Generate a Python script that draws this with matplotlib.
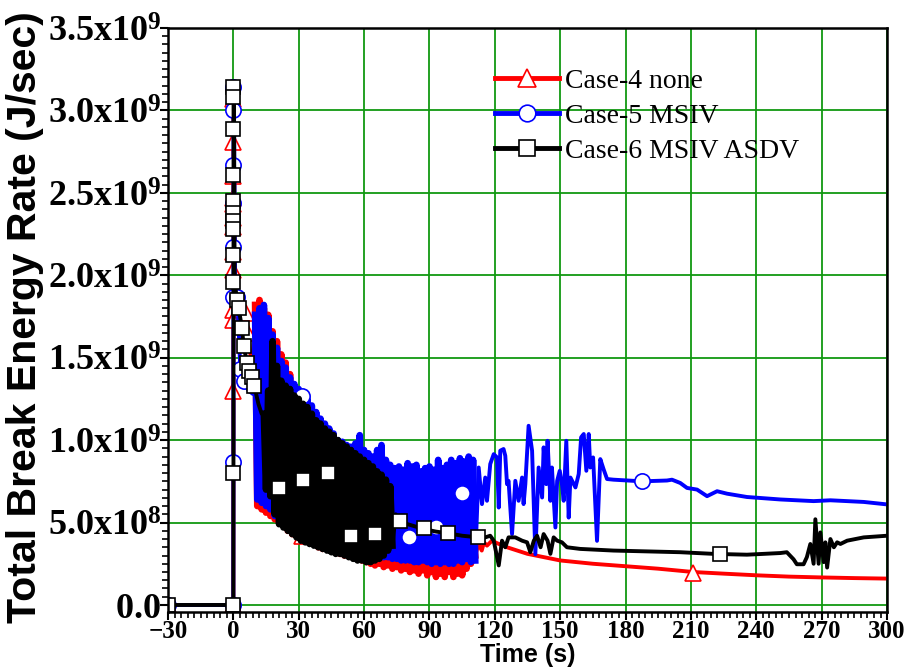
import matplotlib
matplotlib.use("Agg")
import matplotlib.pyplot as plt
from matplotlib.ticker import MultipleLocator, FuncFormatter

plt.rcParams['mathtext.fontset'] = 'custom'
plt.rcParams['mathtext.rm'] = 'Liberation Serif'
plt.rcParams['mathtext.bf'] = 'Liberation Serif:bold'

# ---- data (values in 1e9 J/sec) ----
# spike after break
case4_head_t = [-30, 0, 0.05, 0.1, 0.3, 0.45, 0.7, 3.0, 6.0, 6.6, 8.5, 9.5]
case4_head_v = [0, 0, 1.30, 3.07, 2.81, 2.35, 1.95, 1.86, 1.77, 1.65, 1.45, 1.35]
case5_head_t = [-30, 0, 0.05, 0.1, 0.3, 0.45, 0.6, 0.8, 1.8, 3.2, 4.7, 7.0, 9.0]
case5_head_v = [0, 0, 0.87, 3.15, 3.00, 2.67, 2.30, 1.90, 1.87, 1.43, 1.36, 1.30, 1.28]
case6_head_t = [-30, 0, 0.05, 0.1, 0.3, 0.4, 0.5, 0.6, 1.7, 2.4, 4.0, 4.7, 6.3, 7.0, 8.6, 9.6, 11.5, 13.0]
case6_head_v = [0, 0, 0.80, 3.15, 3.08, 2.61, 2.30, 1.96, 1.85, 1.80, 1.68, 1.57, 1.47, 1.42, 1.38, 1.33, 1.22, 1.16]

# oscillating period (shared time base for case 4 and case 5)
osc_t = [10, 11, 12, 13, 14, 15, 16, 17, 18, 19, 20, 21, 22, 23, 24, 25, 26, 27, 28, 29,
         30, 31, 32, 33, 34, 35, 36, 37, 38, 39, 40, 41, 42, 43, 44, 45, 46, 47, 48, 49,
         50, 51, 52, 53, 54, 55, 56, 57, 58, 59, 60, 61, 62, 63, 64, 65, 66, 67, 68, 69,
         70, 71, 72, 73, 74, 75, 76, 77, 78, 79, 80, 81, 82, 83, 84, 85, 86, 87, 88, 89,
         90, 91, 92, 93, 94, 95, 96, 97, 98, 99, 100, 101, 102, 103, 104, 105, 106, 107, 108, 109,
         110, 111]
case4_osc = [1.82, 0.60, 1.85, 0.58, 1.80, 0.56, 1.76, 0.54, 1.66, 0.52, 1.60, 0.50, 1.52, 0.48, 1.47, 0.45,
             1.40, 0.43, 1.31, 0.42, 1.28, 0.41, 1.26, 0.40, 1.22, 0.38, 1.18, 0.37, 1.15, 0.35, 1.11, 0.34,
             1.07, 0.34, 1.04, 0.33, 1.01, 0.32, 0.98, 0.31, 0.96, 0.30, 0.94, 0.30, 0.93, 0.29, 0.95, 0.28,
             0.99, 0.27, 0.91, 0.26, 0.89, 0.25, 0.87, 0.24, 0.91, 0.25, 0.93, 0.23, 0.85, 0.24, 0.82, 0.22,
             0.80, 0.23, 0.81, 0.21, 0.79, 0.22, 0.83, 0.20, 0.81, 0.21, 0.82, 0.19, 0.78, 0.21, 0.80, 0.18,
             0.81, 0.20, 0.79, 0.17, 0.84, 0.19, 0.80, 0.17, 0.82, 0.20, 0.84, 0.17, 0.82, 0.19, 0.85, 0.18,
             0.80, 0.22, 0.62, 0.25, 0.45, 0.30]
case5_osc = [1.76, 0.64, 1.80, 0.62, 1.82, 0.60, 1.74, 0.58, 1.64, 0.54, 1.56, 0.52, 1.48, 0.50, 1.44, 0.48,
             1.38, 0.46, 1.34, 0.45, 1.31, 0.44, 1.29, 0.42, 1.25, 0.41, 1.21, 0.40, 1.17, 0.39, 1.13, 0.38,
             1.10, 0.37, 1.07, 0.36, 1.04, 0.35, 1.00, 0.35, 0.99, 0.34, 0.97, 0.34, 0.96, 0.33, 0.98, 0.33,
             1.03, 0.32, 0.94, 0.31, 0.92, 0.31, 0.90, 0.30, 0.94, 0.30, 0.97, 0.29, 0.88, 0.29, 0.85, 0.28,
             0.83, 0.28, 0.84, 0.27, 0.82, 0.27, 0.86, 0.27, 0.84, 0.26, 0.85, 0.26, 0.81, 0.27, 0.83, 0.26,
             0.84, 0.25, 0.82, 0.26, 0.88, 0.25, 0.83, 0.26, 0.85, 0.25, 0.88, 0.25, 0.86, 0.27, 0.89, 0.26,
             0.87, 0.28, 0.90, 0.26, 0.88, 0.27]
case6_osc_t = [14, 15, 16, 17, 18, 19, 20, 21, 22, 23, 24, 25, 26, 27, 28, 29, 30, 31, 32, 33,
               34, 35, 36, 37, 38, 39, 40, 41, 42, 43, 44, 45, 46, 47, 48, 49, 50, 51, 52, 53,
               54, 55, 56, 57, 58, 59, 60, 61, 62, 63, 64, 65, 66, 67, 68, 69, 70, 71, 72, 73]
case6_osc = [1.16, 0.70, 1.30, 0.66, 1.60, 0.55, 1.45, 0.49, 1.36, 0.47, 1.33, 0.45, 1.31, 0.43, 1.27, 0.41,
             1.25, 0.39, 1.22, 0.38, 1.20, 0.37, 1.16, 0.36, 1.12, 0.35, 1.10, 0.34, 1.07, 0.33, 1.05, 0.32,
             1.03, 0.31, 1.00, 0.31, 0.98, 0.30, 0.96, 0.29, 0.94, 0.28, 0.92, 0.27, 0.90, 0.27, 0.88, 0.26,
             0.86, 0.26, 0.84, 0.27, 0.81, 0.28, 0.79, 0.30, 0.76, 0.33, 0.72, 0.36]

# tails
case4_tail_t = [112.5, 114, 115, 116.4, 118.7, 121, 125.6, 135, 150, 165, 180, 195, 211, 225, 240, 255, 270, 285, 300]
case4_tail_v = [0.37, 0.33, 0.38, 0.36, 0.39, 0.375, 0.35, 0.31, 0.27, 0.25, 0.235, 0.22, 0.20, 0.19, 0.18, 0.172, 0.167, 0.163, 0.16]
case5_tail_t = [112.6, 114.1, 115.6, 116.4, 117.9, 119.5, 121.0, 121.8, 122.5, 124.0, 124.8, 125.6, 126.3, 127.9,
                129.4, 130.9, 132.5, 133.2, 134.0, 135.5, 137.1, 138.6, 140.1, 141.7, 142.4, 143.6, 144.2, 145.5,
                146.2, 147.8, 148.6, 149.8, 150.8, 151.6, 152.8, 153.9, 154.7, 157.0, 158.5, 159.6, 160.8, 162.0,
                163.1, 163.8, 165.1, 166.9, 168.4, 169.9, 171.5, 174.5, 187.5, 199, 201.3, 205.1, 208.2, 212.8,
                217.4, 222, 226.6, 235.7, 251, 266.3, 274, 289.3, 300]
case5_tail_v = [0.834, 0.612, 0.773, 0.632, 0.855, 0.915, 0.895, 0.591, 0.936, 0.946, 0.905, 0.733, 0.753, 0.43,
                0.753, 0.632, 0.773, 0.612, 0.733, 1.087, 0.936, 0.308, 0.834, 0.652, 0.956, 0.733, 0.996, 0.632,
                0.834, 0.47, 0.753, 0.814, 0.733, 0.632, 0.996, 0.53, 0.773, 0.713, 0.794, 1.017, 1.037, 0.814,
                1.037, 0.834, 0.895, 0.389, 0.885, 0.824, 0.764, 0.76, 0.75, 0.755, 0.76, 0.74, 0.71, 0.70,
                0.66, 0.69, 0.675, 0.655, 0.64, 0.63, 0.635, 0.625, 0.61]
case6_tail_t = [74.5, 76.3, 80, 87.6, 93, 98.5, 105, 112.6, 115.6, 117.9, 119.5, 121.8, 123.3, 124.8, 126.3,
                129.4, 132.5, 134.8, 136.3, 137.9, 139.4, 141.0, 142.4, 144.2, 145.5, 147.0, 148.6, 150.8,
                153.1, 159.2, 174.5, 189.8, 205.1, 220.4, 235.7, 251, 254, 257.1, 258.6, 261.7, 263.2, 264.8,
                266.3, 267.1, 268.6, 269.4, 270.9, 271.7, 272.5, 274, 275.6, 277.1, 278.6, 281.7, 289.3, 300]
case6_tail_v = [0.55, 0.51, 0.49, 0.46, 0.445, 0.435, 0.42, 0.41, 0.41, 0.42, 0.39, 0.24, 0.39, 0.35, 0.41,
                0.41, 0.39, 0.38, 0.32, 0.39, 0.42, 0.35, 0.43, 0.39, 0.31, 0.41, 0.39, 0.38,
                0.35, 0.34, 0.33, 0.325, 0.32, 0.31, 0.305, 0.315, 0.32, 0.277, 0.247, 0.247, 0.29, 0.37,
                0.25, 0.52, 0.25, 0.44, 0.26, 0.38, 0.227, 0.40, 0.35, 0.38, 0.37, 0.39, 0.41, 0.42]

# symbols as they appear on the curves
case4_mk_t = [-30, 0, 0, 0, 0, 0, 0, 0, 0, 0, 0, 0, 0, 0, 6.0, 6.6, 31.5, 211]
case4_mk_v = [0, 0, 1.30, 3.07, 2.81, 2.60, 2.47, 2.43, 2.35, 2.29, 2.14, 2.03, 1.79, 1.73, 1.77, 1.65, 0.42, 0.195]
case5_mk_t = [-30, 0, 0, 0, 0, 0, 0, 0, 0, 1.8, 3.2, 4.7, 31.5, 80.5, 93, 105, 187.5]
case5_mk_v = [0, 0, 0.87, 3.14, 3.00, 2.67, 2.44, 2.17, 1.87, 1.87, 1.43, 1.36, 1.27, 0.415, 0.475, 0.68, 0.75]
case6_mk_t = [-30, 0, 0, 0, 0, 0, 0, 0, 0, 0, 0, 0, 0, 1.7, 2.4, 4.0, 4.7, 6.3, 7.0, 8.6, 9.6,
              20.8, 32, 43.3, 54.2, 65.2, 76.3, 87.7, 98.7, 112.3, 223.5]
case6_mk_v = [0, 0, 0.80, 3.14, 3.08, 2.89, 2.61, 2.45, 2.38, 2.33, 2.28, 2.12, 1.96, 1.85, 1.80, 1.68, 1.57,
              1.47, 1.42, 1.38, 1.33, 0.71, 0.76, 0.80, 0.42, 0.43, 0.51, 0.466, 0.435, 0.41, 0.31]

labels = ['Case-4 none', 'Case-5 MSIV', 'Case-6 MSIV ASDV']

fig = plt.figure(figsize=(9.07, 6.67), dpi=100)
ax = fig.add_axes([0.1852, 0.0825, 0.7928, 0.8755])

scale = 1e9
series = [
    (case4_head_t, case4_head_v, osc_t, case4_osc, case4_tail_t, case4_tail_v,
     case4_mk_t, case4_mk_v, 'red', '^', 12),
    (case5_head_t, case5_head_v, osc_t, case5_osc, case5_tail_t, case5_tail_v,
     case5_mk_t, case5_mk_v, 'blue', 'o', 11),
    (case6_head_t, case6_head_v, case6_osc_t, case6_osc, case6_tail_t, case6_tail_v,
     case6_mk_t, case6_mk_v, 'black', 's', 10),
]
for (ht, hv, ot, ov, tt, tv, mt, mv, c, m, ms), lab in zip(series, labels):
    t = ht + ot + tt
    v = hv + ov + tv
    ax.plot(t, [x * scale for x in v], color=c, lw=2.8)
    # dense oscillation reads as a solid band in the original
    ax.plot(ot, [x * scale for x in ov], color=c, lw=4.8)
    ax.plot(mt, [x * scale for x in mv], ls='none', marker=m, ms=ms, mfc='white',
            mec=c, mew=1.2)
    ax.plot([], [], color=c, lw=3.5, marker=m, ms=ms + 1, mfc='white', mec=c, mew=1.2, label=lab)

ax.set_xlim(-30, 300)
ax.set_ylim(-0.0425e9, 3.5e9)
ax.xaxis.set_major_locator(MultipleLocator(30))
ax.xaxis.set_minor_locator(MultipleLocator(3))
ax.yaxis.set_major_locator(MultipleLocator(0.5e9))
ax.yaxis.set_minor_locator(MultipleLocator(0.05e9))


def yfmt(val, pos):
    if abs(val) < 1:
        return r'$\mathbf{0.0}$'
    if val < 1e9:
        return r'$\mathbf{%.1fx10^{8}}$' % (val / 1e8)
    return r'$\mathbf{%.1fx10^{9}}$' % (val / 1e9)


ax.yaxis.set_major_formatter(FuncFormatter(yfmt))
ax.grid(True, which='major', color='#119911', lw=1.3)
ax.set_axisbelow(True)

ax.tick_params(axis='both', which='major', direction='out', length=6, width=1.5)
ax.tick_params(axis='both', which='minor', direction='out', length=4, width=1.2)
ax.tick_params(axis='y', labelsize=26, pad=-1)
ax.tick_params(axis='x', labelsize=18, pad=0)
for lbl in ax.get_xticklabels():
    lbl.set_fontfamily('Liberation Serif')
    lbl.set_fontweight('bold')
for sp in ax.spines.values():
    sp.set_linewidth(1.8)

ax.set_xlabel('Time (s)', fontfamily='Liberation Sans', fontweight='bold', fontsize=18, labelpad=-0.5)
ax.set_ylabel('Total Break Energy Rate (J/sec)', fontfamily='Liberation Sans', fontweight='bold',
              fontsize=29.5)
ax.yaxis.set_label_coords(-0.172, 0.505)

leg = ax.legend(loc='upper left', bbox_to_anchor=(0.44, 0.95), frameon=False,
                prop={'family': 'Liberation Serif', 'size': 20}, handlelength=2.3,
                handletextpad=0.2, labelspacing=0.35, borderaxespad=0)

fig.savefig('out.png', dpi=100)
